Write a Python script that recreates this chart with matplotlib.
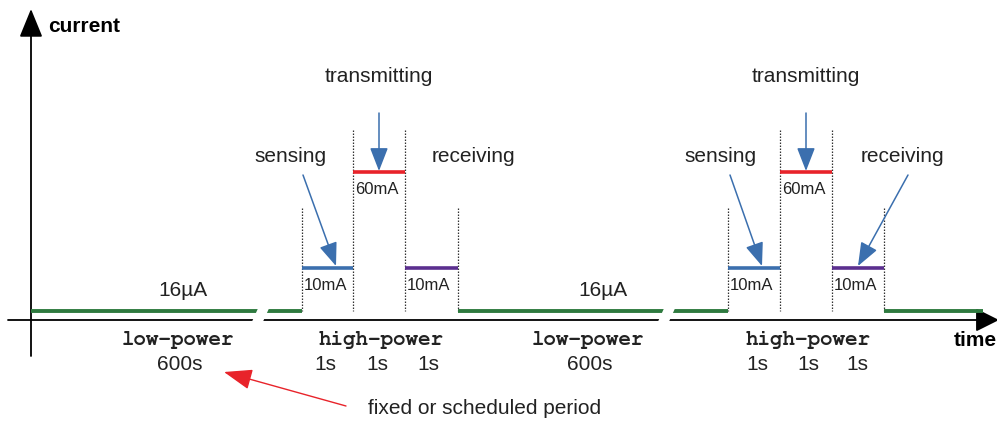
import matplotlib
matplotlib.use("Agg")
import matplotlib.pyplot as plt
from matplotlib.patches import Polygon

# schematic coordinates (image-like units, y grows downward)
low_runs = [(31, 302), (458, 728), (884, 983)]
breaks_x = [257, 663]
burst_edges = [[302, 353, 405, 458], [728, 780, 832, 884]]
slot_levels = [268, 172, 268]
slot_colors = ["#3b6fae", "#e8232a", "#5b2f8f"]
slot_labels = ["10mA", "60mA", "10mA"]
low_level = 311
axis_level = 320
low_labels = ["16\u00b5A", "16\u00b5A"]
low_label_x = [183, 603]
phase_names = ["low-power", "high-power", "low-power", "high-power"]
phase_x = [178, 381, 588, 808]
duration_labels = ["600s", "1s", "1s", "1s", "600s", "1s", "1s", "1s"]
duration_x = [180, 325, 377, 428, 590, 757, 808, 857]

green = "#2e7a3f"
blue = "#3b6fae"
sans = "Liberation Sans"
mono = ["Nimbus Mono PS", "Courier New", "FreeMono", "Liberation Mono"]

fig = plt.figure(figsize=(9.97, 4.21), dpi=100)
ax = fig.add_axes([0, 0, 1, 1])
ax.set_xlim(0, 997)
ax.set_ylim(421, 0)
ax.axis("off")

# axes arrows
ax.annotate("", xy=(31, 9), xytext=(31, 356), annotation_clip=False,
            arrowprops=dict(arrowstyle="-|>,head_length=1.1,head_width=0.45",
                            color="black", lw=1.3, mutation_scale=16,
                            shrinkA=0, shrinkB=0))
ax.annotate("", xy=(999, axis_level), xytext=(8, axis_level),
            annotation_clip=False,
            arrowprops=dict(arrowstyle="-|>,head_length=0.9,head_width=0.45",
                            color="black", lw=1.3, mutation_scale=16,
                            shrinkA=0, shrinkB=0))
ax.text(48, 26, "current", fontsize=15, fontweight="bold", family=sans,
        ha="left", va="center")
ax.text(997, 341, "time", fontsize=15, fontweight="bold", family=sans,
        ha="right", va="center")

# low-power current
for x0, x1 in low_runs:
    ax.plot([x0, x1], [low_level, low_level], color=green, lw=2.8,
            solid_capstyle="butt", zorder=3)

# high-power bursts
for edges in burst_edges:
    for k, x in enumerate(edges):
        top = 130 if k in (1, 2) else 208
        ax.plot([x, x], [top, low_level], color="#333333", lw=0.9,
                ls=(0, (1.2, 1.2)), zorder=2)
    for k in range(3):
        ax.plot([edges[k], edges[k + 1]], [slot_levels[k], slot_levels[k]],
                color=slot_colors[k], lw=2.6, solid_capstyle="butt", zorder=3)
        ax.text(edges[k] + 2, slot_levels[k] + 17, slot_labels[k],
                fontsize=12, family=sans, ha="left", va="center", color="#222222")

# axis breaks
for bx in breaks_x:
    poly = Polygon([(bx - 7, 326), (bx + 4, 326), (bx + 14, 304), (bx + 3, 304)],
                   closed=True, facecolor="white", edgecolor="none", zorder=5)
    ax.add_patch(poly)

for t, x in zip(low_labels, low_label_x):
    ax.text(x, 290, t, fontsize=15, family=sans, ha="center", va="center",
            color="#222222")
for t, x in zip(phase_names, phase_x):
    ax.text(x, 340, t, fontsize=15, fontweight="bold", family=mono,
            ha="center", va="center", color="#222222")
for t, x in zip(duration_labels, duration_x):
    ax.text(x, 365, t, fontsize=15, family=sans, ha="center", va="center",
            color="#222222")

# state annotations
arrow_kw = dict(arrowstyle="-|>,head_length=0.9,head_width=0.35", color=blue,
                lw=1.1, mutation_scale=16, shrinkA=0, shrinkB=0)
for edges in burst_edges:
    mid_tx = (edges[1] + edges[2]) / 2
    ax.text(mid_tx, 77, "transmitting", fontsize=15, family=sans,
            ha="center", va="center", color="#222222")
    ax.annotate("", xy=(mid_tx, 171), xytext=(mid_tx, 113), arrowprops=arrow_kw)

ax.text(290, 157, "sensing", fontsize=15, family=sans, ha="center", va="center",
        color="#222222")
ax.annotate("", xy=(336, 266), xytext=(303, 175), arrowprops=arrow_kw)
ax.text(473, 157, "receiving", fontsize=15, family=sans, ha="center",
        va="center", color="#222222")

ax.text(720, 157, "sensing", fontsize=15, family=sans, ha="center", va="center",
        color="#222222")
ax.annotate("", xy=(762, 266), xytext=(730, 175), arrowprops=arrow_kw)
ax.text(902, 157, "receiving", fontsize=15, family=sans, ha="center",
        va="center", color="#222222")
ax.annotate("", xy=(858, 266), xytext=(908, 175), arrowprops=arrow_kw)

# scheduled period note
ax.annotate("", xy=(224, 372), xytext=(346, 406),
            arrowprops=dict(arrowstyle="-|>,head_length=1.1,head_width=0.4",
                            color="#e8232a", lw=1.0, mutation_scale=16,
                            shrinkA=0, shrinkB=0))
ax.text(368, 408, "fixed or scheduled period", fontsize=15, family=sans,
        ha="left", va="center", color="#222222")

fig.savefig("out.png", dpi=100)
